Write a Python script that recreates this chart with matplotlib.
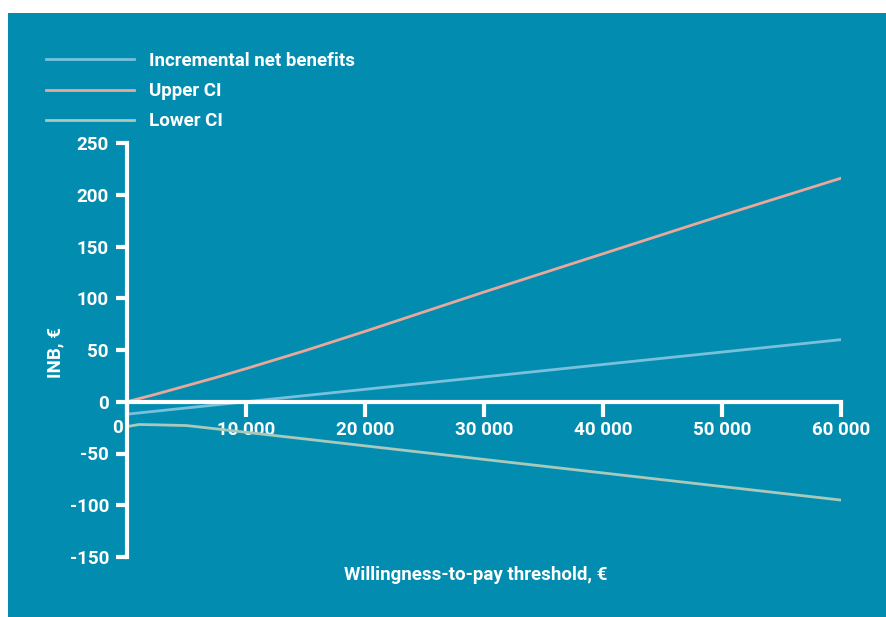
import matplotlib.pyplot as plt
from matplotlib.patches import Rectangle

plt.rcParams['font.family'] = ['Roboto', 'DejaVu Sans']
plt.rcParams['font.weight'] = 'bold'
plt.rcParams['axes.unicode_minus'] = False

wtp = [0, 1000, 2500, 5000, 7500, 10000, 15000, 20000, 30000, 40000, 50000, 60000]
inb = [-12, -10.8, -9, -6, -3, 0, 6, 12, 24, 36, 48, 60]
upper_ci = [0, 3, 7.5, 15.5, 23.5, 32, 49.5, 68, 106, 143, 180, 216]
lower_ci = [-24, -22, -22.3, -23, -26.2, -29.5, -36, -42.6, -55.7, -68.8, -81.9, -95]

xticks = [0, 10000, 20000, 30000, 40000, 50000, 60000]
xtick_labels = ['', '10 000', '20 000', '30 000', '40 000', '50 000', '60 000']
yticks = [-150, -100, -50, 0, 50, 100, 150, 200, 250]

bg = '#028db0'
fs = 13.5
fig = plt.figure(figsize=(8.87, 6.17), dpi=100)
fig.patch.set_facecolor('white')
fig.patches.append(Rectangle((8 / 887, 0), 1, 604 / 617, transform=fig.transFigure,
                             facecolor=bg, edgecolor='none', zorder=-10))

ax = fig.add_axes([127 / 887, 60 / 617, 714 / 887, 414 / 617])
ax.set_facecolor('none')
ax.set_zorder(2)

l1, = ax.plot(wtp, inb, color='#78c0dc', lw=2, label='Incremental net benefits')
l2, = ax.plot(wtp, upper_ci, color='#eaa89a', lw=2, label='Upper CI')
l3, = ax.plot(wtp, lower_ci, color='#a8c9bb', lw=2, label='Lower CI')

ax.set_xlim(0, 60000)
ax.set_ylim(-150, 250)
ax.spines['top'].set_visible(False)
ax.spines['right'].set_visible(False)
ax.spines['bottom'].set_position(('data', 0))
for s in ('left', 'bottom'):
    ax.spines[s].set_color('white')
    ax.spines[s].set_linewidth(3)

ax.set_xticks(xticks)
ax.set_xticklabels(xtick_labels)
ax.set_yticks(yticks)
ax.tick_params(axis='x', colors='white', length=11, width=3, labelsize=fs, pad=3)
ax.tick_params(axis='y', colors='white', length=8, width=3, labelsize=fs, pad=5)
for lab in ax.get_xticklabels() + ax.get_yticklabels():
    lab.set_fontweight('bold')

ax.text(-0.006, 0.312, '0', transform=ax.transAxes, ha='right', va='center',
        color='white', fontsize=fs, fontweight='bold')

fig.text(55 / 887, 1 - 352 / 617, 'INB, €', rotation=90, ha='center', va='center',
         color='white', fontsize=fs, fontweight='bold')
fig.text(476 / 887, 1 - 575 / 617, 'Willingness-to-pay threshold, €', ha='center',
         va='center', color='white', fontsize=fs, fontweight='bold')

leg = fig.legend(handles=[l1, l2, l3], loc='upper left', bbox_to_anchor=(29 / 887, 1 - 35 / 617),
                 frameon=False, handlelength=4.7, handletextpad=0.8, labelspacing=0.65,
                 prop={'size': fs, 'weight': 'bold'})
for t in leg.get_texts():
    t.set_color('white')

fig.savefig('out.png', dpi=100, facecolor=fig.get_facecolor())
